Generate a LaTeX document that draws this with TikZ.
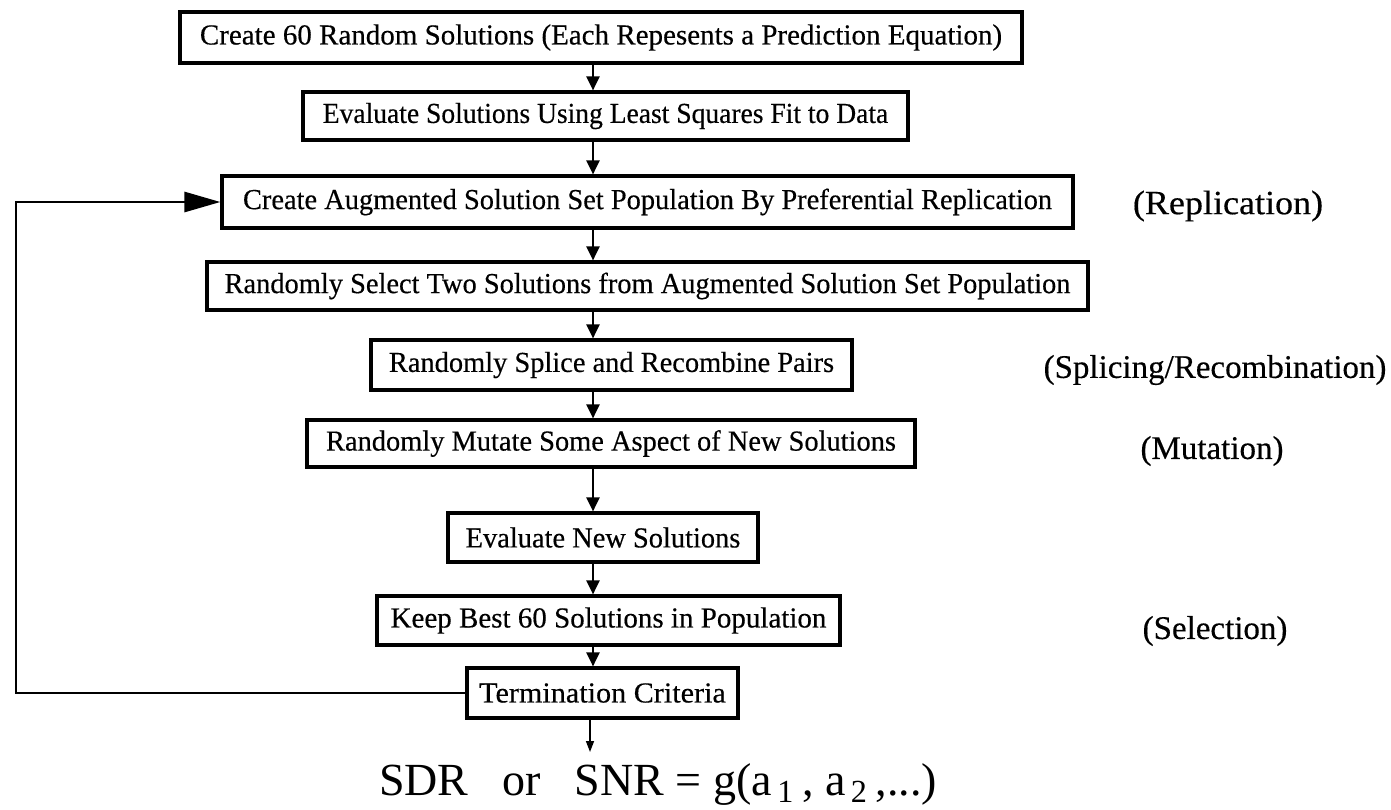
\documentclass[tikz,border=0pt]{standalone}
\usepackage{fontspec}
\setmainfont{Liberation Serif}
\newfontfamily\scanfont[FakeBold=0.4]{Liberation Serif}
\usetikzlibrary{arrows.meta}
\newcommand{\stretchto}[1]{\addfontfeature{FakeStretch=#1}}
\begin{document}
\begin{tikzpicture}[x=0.5pt,y=-0.5pt,
  box/.style={draw, line width=1.6pt, rectangle, inner sep=0pt, font=\scanfont\fontsize{14.5}{17}\selectfont},
  side/.style={font=\scanfont\fontsize{16.5}{19}\selectfont, anchor=center},
  arr/.style={line width=1.1pt, -{Triangle[length=7pt,width=6.5pt]}},
  thinarr/.style={line width=0.7pt, -{Triangle[length=5.5pt,width=4pt]}},
  looparr/.style={line width=1.4pt, -{Triangle[length=18pt,width=10pt]}}]
\useasboundingbox (0,0) rectangle (1391,809);
\node[box, minimum width=421pt, minimum height=25.5pt] (b1) at (601,37.5) {Create 60 Random Solutions (Each Repesents a Prediction Equation)};
\node[box, minimum width=302.5pt, minimum height=24pt] (b2) at (605.5,116) {\stretchto{0.95}Evaluate Solutions Using Least Squares Fit to Data};
\node[box, minimum width=425.5pt, minimum height=26pt] (b3) at (647.5,202) {\stretchto{0.98}Create Augmented Solution Set Population By Preferential Replication};
\node[box, minimum width=440.5pt, minimum height=24pt] (b4) at (647.5,286) {\stretchto{0.98}Randomly Select Two Solutions from Augmented Solution Set Population};
\node[box, minimum width=240.5pt, minimum height=25pt] (b5) at (611.5,365) {\stretchto{0.98}Randomly Splice and Recombine Pairs};
\node[box, minimum width=304pt, minimum height=23.5pt] (b6) at (611,443.5) {\stretchto{0.98}Randomly Mutate Some Aspect of New Solutions};
\node[box, minimum width=155pt, minimum height=24.5pt] (b7) at (603,537.5) {\stretchto{0.98}Evaluate New Solutions};
\node[box, minimum width=231.5pt, minimum height=24.5pt] (b8) at (608.5,620.5) {Keep Best 60 Solutions in Population};
\node[box, minimum width=135.5pt, minimum height=25pt] (b9) at (602.5,693) {\stretchto{1.04}Termination Criteria};
\node[font=\fontsize{23}{27}\selectfont, anchor=west] (res) at (372,784) {SDR\hspace{17pt}or\hspace{17pt}SNR = g(a\textsubscript{\,1}\,, a\textsubscript{\,2}\,,...)};
\node[side, font=\scanfont\fontsize{17}{20}\selectfont] (l1) at (1228,206) {\scalebox{1.06}[1]{(Replication)}};
\node[side] (l2) at (1215,370) {(Splicing/Recombination)};
\node[side] (l3) at (1212,451) {(Mutation)};
\node[side] (l4) at (1215,631) {(Selection)};
\coordinate (ax) at (593,0);
\coordinate (fx) at (590,0);
\draw[arr] (b1.south -| ax) -- (b2.north -| ax);
\draw[arr] (b2.south -| ax) -- (b3.north -| ax);
\draw[arr] (b3.south -| ax) -- (b4.north -| ax);
\draw[arr] (b4.south -| ax) -- (b5.north -| ax);
\draw[arr] (b5.south -| ax) -- (b6.north -| ax);
\draw[arr] (b6.south -| ax) -- (b7.north -| ax);
\draw[arr] (b7.south -| ax) -- (b8.north -| ax);
\draw[arr] (b8.south -| ax) -- (b9.north -| ax);
\coordinate (rt) at (590,752);
\draw[thinarr] (b9.south -| fx) -- (rt);
\coordinate (lx) at (16,0);
\draw[looparr] (b9.west) -- (b9.west -| lx) -- (lx |- b3.west) -- (b3.west);
\end{tikzpicture}
\end{document}
